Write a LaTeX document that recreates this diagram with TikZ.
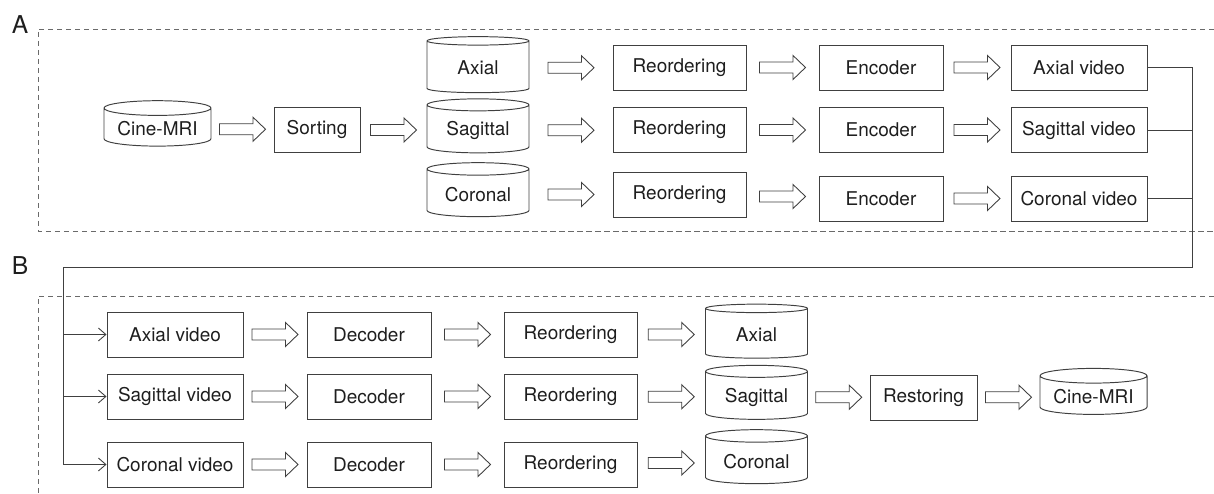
\documentclass[tikz,border=0pt]{standalone}
\usepackage{fontspec}
\setmainfont{TeX Gyre Heros}
\usetikzlibrary{arrows.meta,shapes.geometric,calc}
\definecolor{ink}{HTML}{1E1E1E}
\definecolor{frame}{HTML}{404040}
\definecolor{fence}{HTML}{6A6A6A}

% hollow block arrow, centred in the gap between two nodes
\newcommand{\fatarrow}[2]{%
  \draw[fat] ($(#1.east)!0.5!(#2.west)$) ++(-0.46,0.11) -- ++(0.67,0) -- ++(0,0.13)
    -- ++(0.25,-0.24) -- ++(-0.25,-0.24) -- ++(0,0.13) -- ++(-0.67,0) -- cycle;}

\begin{document}
\begin{tikzpicture}[
    line width=0.55pt, color=frame,
    box/.style={draw=frame, rectangle, minimum height=0.9cm, text=ink,
      font=\fontsize{10.8}{12}\selectfont},
    drum/.style={draw=frame, cylinder, shape border rotate=90, aspect=0.16,
      minimum width=2.04cm, minimum height=1.08cm, text=ink,
      font=\fontsize{10.8}{12}\selectfont},
    fat/.style={draw=frame, line width=0.5pt, fill=white},
    wire/.style={draw=frame, line width=0.5pt},
    panel/.style={draw=fence, line width=0.5pt, dash pattern=on 1.1mm off 0.7mm},
    tag/.style={font=\fontsize{14}{15}\selectfont, text=ink}]
  % fixed canvas
  \path[use as bounding box] (0,0) rectangle (24.28,9.88);

  % ================= A) splitting and encoding =================
  \node[tag] (tagA) at (0.40,9.38) {A};
  \draw[panel] (24.28,9.30) -- (0.76,9.30) -- (0.76,5.26) -- (24.28,5.26);

  \node[drum, minimum width=2.14cm, minimum height=0.88cm] (cineA) at (3.15,7.30) {Cine-MRI};
  \node[box, minimum width=1.72cm] (sort) at (6.34,7.29) {Sorting};
  \node[drum, minimum height=1.12cm] (viewA1) at (9.56,8.52) {Axial};
  \node[drum] (viewA2) at (9.56,7.27) {Sagittal};
  \node[drum] (viewA3) at (9.56,5.99) {Coronal};
  \foreach \i/\y in {1/8.53, 2/7.28, 3/5.99}
    \node[box, minimum width=2.66cm] (reoA\i) at (13.59,\y) {Reordering};
  \foreach \i/\y in {1/8.53, 2/7.28, 3/5.91}
    \node[box, minimum width=2.48cm] (enc\i) at (17.62,\y) {Encoder};
  \node[box, minimum width=2.72cm] (vidA1) at (21.58,8.53) {Axial video};
  \node[box, minimum width=2.72cm] (vidA2) at (21.58,7.28) {Sagittal video};
  \node[box, minimum width=2.72cm] (vidA3) at (21.58,5.91) {Coronal video};

  \fatarrow{cineA}{sort}
  \fatarrow{sort}{viewA2}
  \foreach \i in {1,2,3} {
    \fatarrow{viewA\i}{reoA\i}
    \fatarrow{reoA\i}{enc\i}
    \fatarrow{enc\i}{vidA\i}
  }

  % ================= B) decoding and restoring =================
  \node[tag] (tagB) at (0.40,4.56) {B};
  \draw[panel] (24.28,3.96) -- (0.76,3.96) -- (0.76,0);

  \node[box, minimum width=2.72cm] (vidB1) at (3.50,3.19) {Axial video};
  \node[box, minimum width=2.72cm] (vidB2) at (3.50,1.95) {Sagittal video};
  \node[box, minimum width=2.72cm] (vidB3) at (3.50,0.59) {Coronal video};
  \foreach \i/\y in {1/3.19, 2/1.95, 3/0.59} {
    \node[box, minimum width=2.48cm] (dec\i) at (7.38,\y) {Decoder};
    \node[box, minimum width=2.66cm] (reoB\i) at (11.41,\y) {Reordering};
  }
  \node[drum] (viewB1) at (15.13,3.19) {Axial};
  \node[drum] (viewB2) at (15.13,1.94) {Sagittal};
  \node[drum] (viewB3) at (15.13,0.65) {Coronal};
  \node[box, minimum width=2.14cm] (rest) at (18.47,1.93) {Restoring};
  \node[drum, minimum width=2.14cm, minimum height=0.92cm] (cineB) at (21.87,1.94) {Cine-MRI};

  \foreach \i in {1,2,3} {
    \fatarrow{vidB\i}{dec\i}
    \fatarrow{dec\i}{reoB\i}
    \fatarrow{reoB\i}{viewB\i}
  }
  \fatarrow{viewB2}{rest}
  \fatarrow{rest}{cineB}

  % ================= videos handed from A to B =================
  \coordinate (busR) at (23.84,4.54);
  \coordinate (busL) at (1.26,4.54);
  \draw[wire] (vidA1.east) -- (vidA1.east -| busR) -- (busR) -- (busL) -- (busL |- vidB3.west);
  \draw[wire] (vidA2.east) -- (vidA2.east -| busR);
  \draw[wire] (vidA3.east) -- (vidA3.east -| busR);
  \foreach \i in {1,2,3}
    \draw[wire, -{Straight Barb[length=1.5mm,width=2.6mm]}] (busL |- vidB\i.west) -- (vidB\i.west);
\end{tikzpicture}
\end{document}
